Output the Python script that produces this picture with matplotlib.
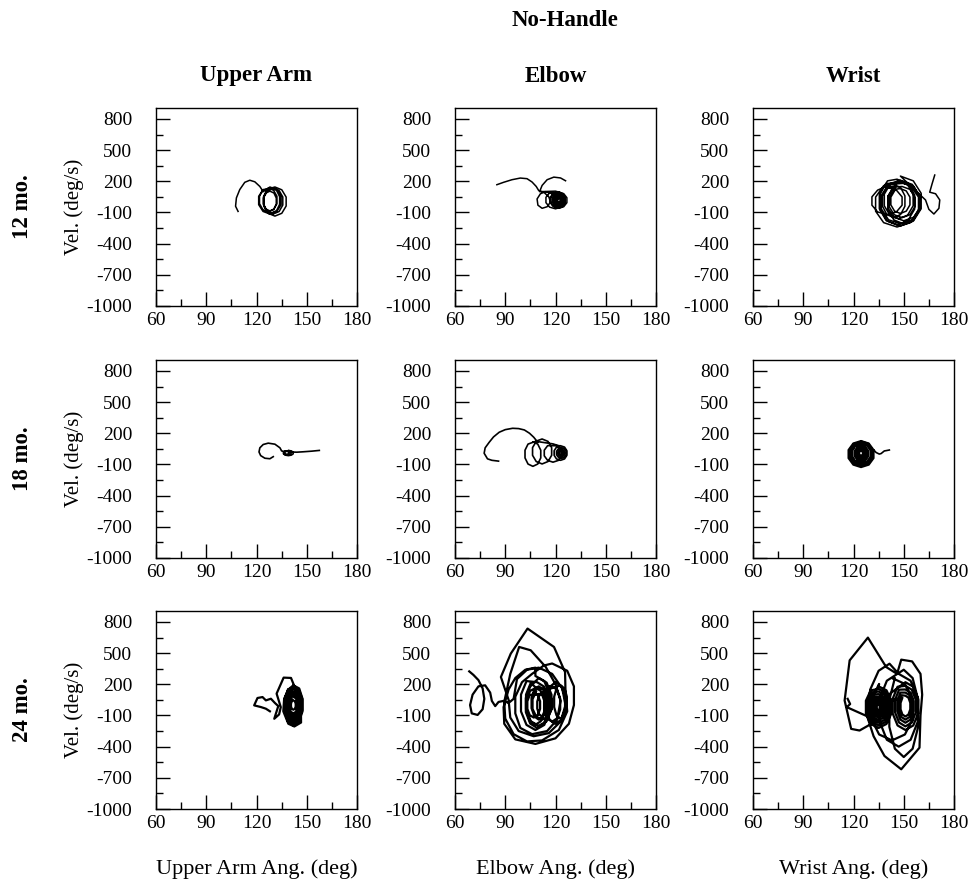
import matplotlib
matplotlib.use('Agg')
import matplotlib.pyplot as plt

plt.rcParams['font.family'] = 'Liberation Serif'
plt.rcParams['axes.unicode_minus'] = False

# ---- layout labels ----
title = 'No-Handle'
joints = ['Upper Arm', 'Elbow', 'Wrist']
ages = ['12 mo.', '18 mo.', '24 mo.']
xlabels = ['Upper Arm Ang. (deg)', 'Elbow Ang. (deg)', 'Wrist Ang. (deg)']
xticks = [60, 90, 120, 150, 180]
yticks = [-1000, -700, -400, -100, 200, 500, 800]

# ---- phase-plane traces (angle deg, velocity deg/s) ----
# 12 mo., upper arm
ua12_x = [109, 107.5, 108, 110, 113, 116, 119, 122, 124,
          128, 132.1, 134.7, 134.7, 132.1, 128, 123.9, 121.3, 121.3, 123.9,
          130, 133.5, 135.7, 135.7, 133.5, 130, 126.5, 124.3, 124.3, 126.5,
          127, 130.2, 132.2, 132.2, 130.2, 127, 123.8, 121.8, 121.8, 123.8,
          131, 135.1, 137.7, 137.7, 135.1, 131, 126.9, 124.3, 124.3, 126.9,
          129, 132, 133.8, 133.8, 132, 129, 126, 124.2, 124.2, 126,
          128, 130.4, 131.8, 131.8, 130.4, 128, 125.6, 124.2, 124.2, 125.6, 128]
ua12_y = [-90, -40, 40, 120, 190, 210, 195, 150, 100,
          145, 120, 55, -25, -90, -115, -90, -25, 55, 120,
          135, 111, 49, -29, -91, -115, -91, -29, 49, 111,
          135, 113, 56, -16, -73, -95, -73, -16, 56, 113,
          145, 118, 48, -38, -108, -135, -108, -38, 48, 118,
          135, 112, 52, -22, -82, -105, -82, -22, 52, 112,
          105, 87, 39, -19, -67, -85, -67, -19, 39, 87, 105]

# 12 mo., elbow
el12_x = [126, 123, 119, 115, 112, 110.5,
          120, 123.5, 125.7, 125.7, 123.5, 120, 116.5, 114.3, 114.3, 116.5,
          121, 123.7, 125.3, 125.3, 123.7, 121, 118.3, 116.7, 116.7, 118.3,
          122, 124.9, 126.8, 126.8, 124.9, 122, 119.1, 117.2, 117.2, 119.1,
          122, 124.1, 125.3, 125.3, 124.1, 122, 119.9, 118.7, 118.7, 119.9,
          122, 124.4, 125.8, 125.8, 124.4, 122, 119.6, 118.2, 118.2, 119.6,
          122, 123.5, 124.4, 124.4, 123.5, 122, 120.5, 119.6, 119.6, 120.5,
          122, 123.8, 124.9, 124.9, 123.8, 122, 120.2, 119.1, 119.1, 120.2,
          122, 122.9, 123.4, 123.4, 122.9, 122, 121.1, 120.6, 120.6, 121.1,
          122, 123.2, 123.9, 123.9, 123.2, 122, 120.8, 120.1, 120.1, 120.8,
          122, 122.5, 122.8, 122.8, 122.5, 122, 121.5, 121.2, 121.2, 121.5,
          118, 114, 111, 109, 109.5, 112, 115, 117, 116, 113, 110,
          108.5, 106, 103, 99, 94, 89, 85]
el12_y = [205, 232, 240, 215, 160, 100,
          105, 89, 46, -6, -49, -65, -49, -6, 46, 89,
          90, 77, 42, -2, -37, -50, -37, -2, 42, 77,
          96, 81, 42, -6, -45, -60, -45, -6, 42, 81,
          73, 63, 35, 1, -27, -37, -27, 1, 35, 63,
          80, 68, 37, -1, -32, -44, -32, -1, 37, 68,
          58, 50, 30, 6, -14, -22, -14, 6, 30, 50,
          66, 57, 33, 3, -21, -30, -21, 3, 33, 57,
          43, 38, 26, 10, -2, -7, -2, 10, 26, 38,
          50, 44, 28, 8, -8, -14, -8, 8, 28, 44,
          32, 29, 22, 14, 7, 4, 7, 14, 22, 29,
          80, 100, 80, 30, -30, -60, -45, 0, 50, 95, 110,
          150, 193, 225, 231, 215, 190, 167]

# 12 mo., wrist
wr12_x = [168.5, 167, 165.5, 169, 171.5, 171, 168, 165, 163,
          148, 155.7, 160.4, 160.4, 155.7, 148, 140.3, 135.6, 135.6, 140.3,
          146, 152.5, 156.5, 156.5, 152.5, 146, 139.5, 135.5, 135.5, 139.5,
          150, 155.9, 159.5, 159.5, 155.9, 150, 144.1, 140.5, 140.5, 144.1,
          140, 145.6, 149, 149, 145.6, 140, 134.4, 131, 131, 134.4,
          148, 155.1, 159.4, 159.4, 155.1, 148, 140.9, 136.6, 136.6, 140.9,
          150, 155.9, 159.5, 159.5, 155.9, 150, 144.1, 140.5, 140.5, 144.1,
          147, 152.3, 155.6, 155.6, 152.3, 147, 141.7, 138.4, 138.4, 141.7,
          144, 148.1, 150.7, 150.7, 148.1, 144, 139.9, 137.3, 137.3, 139.9,
          149, 153.7, 156.6, 156.6, 153.7, 149, 144.3, 141.4, 141.4, 144.3,
          148, 151.5, 153.7, 153.7, 151.5, 148, 144.5, 142.3, 142.3, 144.5,
          146, 154, 158.8, 158.8, 154, 146, 138, 133.2, 133.2, 138, 146]
wr12_y = [260, 180, 95, 80, 20, -60, -115, -70, 20,
          250, 204, 84, -64, -184, -230, -184, -64, 84, 204,
          220, 178, 68, -68, -178, -220, -178, -68, 68, 178,
          190, 152, 52, -72, -172, -210, -172, -72, 52, 152,
          140, 115, 50, -30, -95, -120, -95, -30, 50, 115,
          210, 170, 65, -65, -170, -210, -170, -65, 65, 170,
          180, 146, 56, -56, -146, -180, -146, -56, 56, 146,
          200, 166, 76, -36, -126, -160, -126, -36, 76, 166,
          170, 140, 60, -40, -120, -150, -120, -40, 60, 140,
          150, 122, 47, -47, -122, -150, -122, -47, 47, 122,
          130, 107, 47, -27, -87, -110, -87, -27, 47, 107,
          200, 158, 48, -88, -198, -240, -198, -88, 48, 158, 200]

# 18 mo., upper arm
ua18_x = [157.5, 153, 148, 144, 141,
          139, 140.8, 141.9, 141.9, 140.8, 139, 137.2, 136.1, 136.1, 137.2,
          138.5, 139.8, 140.6, 140.6, 139.8, 138.5, 137.2, 136.4, 136.4, 137.2,
          138, 138.9, 139.4, 139.4, 138.9, 138, 137.1, 136.6, 136.6, 137.1,
          135, 134, 131, 127, 124, 122, 121.5, 122.5, 125, 128, 130]
ua18_y = [35, 28, 22, 18, 20,
          35, 30, 18, 2, -10, -15, -10, 2, 18, 30,
          30, 26, 16, 4, -6, -10, -6, 4, 16, 26,
          26, 23, 16, 8, 1, -2, 1, 8, 16, 23,
          30, 60, 95, 105, 92, 60, 20, -15, -40, -45, -25]

# 18 mo., elbow
el18_x = [86, 82, 79.4, 77.4, 78, 80.4, 83, 86.4, 90, 94.4, 98, 101.4, 104.5, 107, 109.4,
          106.5, 109.4, 111.2, 111.2, 109.4, 106.5, 103.6, 101.8, 101.8, 103.6,
          112, 115.5, 117.7, 117.7, 115.5, 112, 108.5, 106.3, 106.3, 108.5,
          118.5, 121.7, 123.7, 123.7, 121.7, 118.5, 115.3, 113.3, 113.3, 115.3,
          123, 125.4, 126.8, 126.8, 125.4, 123, 120.6, 119.2, 119.2, 120.6,
          123.5, 125.3, 126.4, 126.4, 125.3, 123.5, 121.7, 120.6, 120.6, 121.7,
          123.5, 124.7, 125.4, 125.4, 124.7, 123.5, 122.3, 121.6, 121.6, 122.3,
          123.5, 124.1, 124.5, 124.5, 124.1, 123.5, 122.9, 122.5, 122.5, 122.9]
el18_y = [-68, -60, -46, 8, 60, 113, 165, 210, 235, 248, 245, 232, 200, 162, 114,
          118, 96, 37, -37, -96, -118, -96, -37, 37, 96,
          145, 122, 62, -12, -72, -95, -72, -12, 62, 122,
          98, 81, 37, -17, -61, -78, -61, -17, 37, 81,
          80, 67, 32, -12, -47, -60, -47, -12, 32, 67,
          60, 50, 26, -6, -30, -40, -30, -6, 26, 50,
          42, 36, 20, 0, -16, -22, -16, 0, 20, 36,
          26, 23, 15, 5, -3, -6, -3, 5, 15, 23]

# 18 mo., wrist
wr18_x = [141.4, 139.5, 138.4, 136.5, 135.4, 133.5, 132.1,
          132.1, 129.2, 124.5, 119.8, 116.9, 116.9, 119.8, 124.5, 129.2, 132.1,
          124.5, 128.7, 131.3, 131.3, 128.7, 124.5, 120.3, 117.7, 117.7, 120.3,
          124.5, 128.3, 130.7, 130.7, 128.3, 124.5, 120.7, 118.3, 118.3, 120.7,
          124.5, 127.9, 130, 130, 127.9, 124.5, 121.1, 119, 119, 121.1,
          124, 127, 128.8, 128.8, 127, 124, 121, 119.2, 119.2, 121,
          124.5, 127, 128.6, 128.6, 127, 124.5, 122, 120.4, 120.4, 122,
          124.5, 126.6, 127.8, 127.8, 126.6, 124.5, 122.4, 121.2, 121.2, 122.4,
          124.5, 126.2, 127.3, 127.3, 126.2, 124.5, 122.8, 121.7, 121.7, 122.8,
          124.5, 125.8, 126.6, 126.6, 125.8, 124.5, 123.2, 122.4, 122.4, 123.2,
          124.5, 125.4, 125.9, 125.9, 125.4, 124.5, 123.6, 123.1, 123.1, 123.6,
          124.5, 125.1, 125.5, 125.5, 125.1, 124.5, 123.9, 123.5, 123.5, 123.9]
wr18_y = [39, 33, 30, 5, 0, 15, 40,
          -40, -104, -128, -104, -40, 40, 104, 128, 104, 40,
          123, 100, 42, -32, -90, -113, -90, -32, 42, 100,
          115, 94, 39, -29, -84, -105, -84, -29, 39, 94,
          102, 84, 35, -25, -74, -92, -74, -25, 35, 84,
          90, 74, 31, -21, -64, -80, -64, -21, 31, 74,
          77, 63, 27, -17, -53, -67, -53, -17, 27, 63,
          65, 54, 24, -14, -44, -55, -44, -14, 24, 54,
          55, 45, 21, -11, -35, -45, -35, -11, 21, 45,
          48, 41, 22, -2, -21, -28, -21, -2, 22, 41,
          33, 28, 14, -4, -18, -23, -18, -4, 14, 28,
          28, 24, 14, 2, -8, -12, -8, 2, 14, 24]

# 24 mo., upper arm
ua24_x = [128, 125.6, 122.6, 118.6, 120.6, 123.6, 125.6, 128.6, 131, 133,
          130.6, 133.5, 134.5, 132, 136.2, 140.6, 143.6, 146.5, 146.6, 142.6,
          139, 136, 136.5, 139, 142, 145.5, 147.5, 147.5, 145, 142, 138.5, 136.5,
          142, 145.2, 147.2, 147.2, 145.2, 142, 138.8, 136.8, 136.8, 138.8,
          142, 144.9, 146.8, 146.8, 144.9, 142, 139.1, 137.2, 137.2, 139.1,
          142, 144.7, 146.3, 146.3, 144.7, 142, 139.3, 137.7, 137.7, 139.3,
          142, 144.4, 145.8, 145.8, 144.4, 142, 139.6, 138.2, 138.2, 139.6,
          142.5, 144.6, 145.8, 145.8, 144.6, 142.5, 140.4, 139.2, 139.2, 140.4,
          142, 143.8, 144.9, 144.9, 143.8, 142, 140.2, 139.1, 139.1, 140.2,
          142, 143.5, 144.4, 144.4, 143.5, 142, 140.5, 139.6, 139.6, 140.5,
          142, 142.9, 143.4, 143.4, 142.9, 142, 141.1, 140.6, 140.6, 141.1]
ua24_y = [-60, -35, -19, -3, 68, 77, 45, 61, 20, -10,
          -132, -90, -20, 110, 264, 261, 142, 20, -168, -206,
          -180, -60, 60, 150, 190, 160, 60, -60, -170, -195, -150, -40,
          185, 151, 61, -51, -141, -175, -141, -51, 61, 151,
          165, 134, 51, -51, -134, -165, -134, -51, 51, 134,
          155, 127, 52, -42, -117, -145, -117, -42, 52, 127,
          130, 105, 40, -40, -105, -130, -105, -40, 40, 105,
          115, 93, 36, -36, -93, -115, -93, -36, 36, 93,
          98, 79, 30, -30, -79, -98, -79, -30, 30, 79,
          80, 65, 25, -25, -65, -80, -65, -25, 25, 65,
          45, 36, 14, -14, -36, -45, -36, -14, 14, 36]

# 24 mo., elbow
el24_x = [68.5, 71, 74, 76.5, 77.5, 76.5, 73.5, 70, 69, 70.5, 74, 78, 81, 82, 84, 86, 89, 92, 95,
          97, 103, 110, 118, 124, 126, 123, 116, 107, 98, 93, 92,
          87.4, 93.3, 103.3, 111, 119.1, 125.7, 126, 127, 122, 112, 103, 95, 90, 89.4,
          93, 98.3, 105.2, 114.2, 120, 123, 121, 115, 106, 99, 96, 96, 100, 106,
          113, 118, 127, 131, 131, 128, 120, 108, 96, 89.4, 89, 92, 96, 102, 108,
          108, 113.3, 116.6, 116.6, 113.3, 108, 102.7, 99.4, 99.4, 102.7,
          109, 113.1, 115.7, 115.7, 113.1, 109, 104.9, 102.3, 102.3, 104.9,
          110, 114.7, 117.6, 117.6, 114.7, 110, 105.3, 102.4, 102.4, 105.3,
          108, 111.2, 113.2, 113.2, 111.2, 108, 104.8, 102.8, 102.8, 104.8,
          110, 112.6, 114.3, 114.3, 112.6, 110, 107.4, 105.7, 105.7, 107.4,
          112, 115.5, 117.7, 117.7, 115.5, 112, 108.5, 106.3, 106.3, 108.5,
          107, 109.4, 110.8, 110.8, 109.4, 107, 104.6, 103.2, 103.2, 104.6,
          112, 113.8, 114.9, 114.9, 113.8, 112, 110.2, 109.1, 109.1, 110.2,
          120, 123.5, 125.7, 125.7, 123.5, 120, 116.5, 114.3, 114.3, 116.5,
          118, 120.9, 122.8, 122.8, 120.9, 118, 115.1, 113.2, 113.2, 115.1,
          123, 125.4, 126.8, 126.8, 125.4, 123, 120.6, 119.2, 119.2, 120.6]
el24_y = [324, 290, 240, 160, 60, -40, -95, -80, 0, 100, 180, 190, 120, 40, -10, 30, 40, 20, 60,
          250, 340, 360, 300, 160, 0, -160, -270, -300, -250, -120, 50,
          270, 495, 736, 650, 559, 318, 109, -60, -240, -340, -350, -280, -130, 30,
          300, 559, 527, 366, 200, 40, -140, -250, -280, -220, -80, 80, 220, 300,
          380, 400, 330, 180, 0, -180, -320, -374, -330, -180, -20, 150, 260, 340, 360,
          280, 231, 101, -61, -191, -240, -191, -61, 101, 231,
          220, 178, 68, -68, -178, -220, -178, -68, 68, 178,
          260, 216, 101, -41, -156, -200, -156, -41, 101, 216,
          170, 136, 46, -66, -156, -190, -156, -66, 46, 136,
          180, 150, 70, -30, -110, -140, -110, -30, 70, 150,
          160, 132, 57, -37, -112, -140, -112, -37, 57, 132,
          120, 97, 37, -37, -97, -120, -97, -37, 37, 97,
          110, 89, 34, -34, -89, -110, -89, -34, 34, 89,
          220, 182, 82, -42, -142, -180, -142, -42, 82, 182,
          180, 148, 63, -43, -128, -160, -128, -43, 63, 148,
          190, 159, 80, -20, -99, -130, -99, -20, 80, 159]

# 24 mo., wrist
wr24_x = [116.5, 118, 116, 134, 123.6, 118.6, 114.7, 117.7, 128.6, 139.5, 146,
          148.5, 155, 160, 161, 160, 159.4, 148.5, 138.5, 132, 128, 130, 135, 141.5,
          147, 154.1, 158.4, 158.4, 154.1, 147, 139.9, 135.6, 135.6, 139.9,
          150, 155.3, 158.6, 158.6, 155.3, 150, 144.7, 141.4, 141.4, 144.7,
          143, 150.7, 155.4, 155.4, 150.7, 143, 135.3, 130.6, 130.6, 135.3,
          135, 139.7, 142.6, 142.6, 139.7, 135, 130.3, 127.4, 127.4, 130.3,
          135, 139.1, 141.7, 141.7, 139.1, 135, 130.9, 128.3, 128.3, 130.9,
          135, 138.5, 140.7, 140.7, 138.5, 135, 131.5, 129.3, 129.3, 131.5,
          135, 137.9, 139.8, 139.8, 137.9, 135, 132.1, 130.2, 130.2, 132.1,
          135, 137.4, 138.8, 138.8, 137.4, 135, 132.6, 131.2, 131.2, 132.6,
          135, 136.9, 138, 138, 136.9, 135, 133.1, 132, 132, 133.1,
          135, 136.5, 137.4, 137.4, 136.5, 135, 133.5, 132.6, 132.6, 133.5,
          135, 136.1, 136.7, 136.7, 136.1, 135, 133.9, 133.3, 133.3, 133.9,
          151, 155.7, 158.6, 158.6, 155.7, 151, 146.3, 143.4, 143.4, 146.3,
          151, 154.8, 157.2, 157.2, 154.8, 151, 147.2, 144.8, 144.8, 147.2,
          151, 154, 155.8, 155.8, 154, 151, 148, 146.2, 146.2, 148,
          151, 153.4, 154.8, 154.8, 153.4, 151, 148.6, 147.2, 147.2, 148.6,
          151, 152.8, 153.9, 153.9, 152.8, 151, 149.2, 148.1, 148.1, 149.2,
          135, 135.7, 136.1, 136.1, 135.7, 135, 134.3, 133.9, 133.9, 134.3]
wr24_y = [60, 10, -20, -150, -245, -229, 44, 430, 649, 366, 300,
          437, 420, 300, 100, -100, -410, -618, -490, -300, -100, 150, 330, 398,
          300, 234, 59, -159, -334, -400, -334, -159, 59, 234,
          340, 260, 50, -210, -420, -500, -420, -210, 50, 260,
          260, 203, 53, -133, -283, -340, -283, -133, 53, 203,
          180, 142, 42, -82, -182, -220, -182, -82, 42, 142,
          155, 122, 34, -74, -162, -195, -162, -74, 34, 122,
          130, 102, 27, -67, -142, -170, -142, -67, 27, 102,
          105, 81, 19, -59, -121, -145, -121, -59, 19, 81,
          80, 61, 11, -51, -101, -120, -101, -51, 11, 61,
          60, 45, 5, -45, -85, -100, -85, -45, 5, 45,
          40, 29, -1, -39, -69, -80, -69, -39, -1, 29,
          25, 16, -6, -34, -56, -65, -56, -34, -6, 16,
          220, 176, 61, -81, -196, -240, -196, -81, 61, 176,
          185, 148, 50, -70, -168, -205, -168, -70, 50, 148,
          150, 120, 40, -60, -140, -170, -140, -60, 40, 120,
          120, 95, 30, -50, -115, -140, -115, -50, 30, 95,
          90, 71, 21, -41, -91, -110, -91, -41, 21, 71,
          10, 4, -11, -29, -44, -50, -44, -29, -11, 4]

traces = [[(ua12_x, ua12_y), (el12_x, el12_y), (wr12_x, wr12_y)],
          [(ua18_x, ua18_y), (el18_x, el18_y), (wr18_x, wr18_y)],
          [(ua24_x, ua24_y), (el24_x, el24_y), (wr24_x, wr24_y)]]

W, H = 969, 881
col_left = [156, 455, 753]
row_top = [108, 360, 611]
aw, ah = 201, 198
line_w = [1.1, 1.2, 1.6]

fig = plt.figure(figsize=(W / 100, H / 100), dpi=100)

for r in range(3):
    for c in range(3):
        ax = fig.add_axes([col_left[c] / W, 1 - (row_top[r] + ah) / H, aw / W, ah / H])
        x, y = traces[r][c]
        ax.plot(x, y, color='black', lw=line_w[r], solid_joinstyle='round')
        ax.set_xlim(60, 180)
        ax.set_ylim(-1000, 905)
        ax.set_xticks(xticks)
        ax.set_xticks([75, 105, 135, 165], minor=True)
        ax.set_yticks(yticks)
        ax.set_yticks([-850, -550, -250, 50, 350, 650], minor=True)
        ax.tick_params(which='both', direction='in', top=False, right=False,
                       width=1.0, labelsize=14, color='black')
        ax.tick_params(which='major', length=10)
        ax.tick_params(which='minor', length=5)
        ax.tick_params(axis='y', pad=17)
        ax.tick_params(axis='x', pad=4)
        for s in ax.spines.values():
            s.set_linewidth(1.0)
        if c == 0:
            ax.set_ylabel('Vel. (deg/s)', fontsize=15, labelpad=2)
        if r == 2:
            ax.set_xlabel(xlabels[c], fontsize=16, labelpad=20)

# column and row headings
for c in range(3):
    fig.text((col_left[c] + aw / 2) / W, 1 - 76 / H, joints[c], ha='center', va='center',
             fontsize=16.5, fontweight='bold')
for r in range(3):
    fig.text(22 / W, 1 - (row_top[r] + ah / 2) / H, ages[r], ha='center', va='center',
             rotation=90, fontsize=16.5, fontweight='bold')
fig.text(565 / W, 1 - 20 / H, title, ha='center', va='center', fontsize=16.5, fontweight='bold')

fig.savefig('out.png', dpi=100)
